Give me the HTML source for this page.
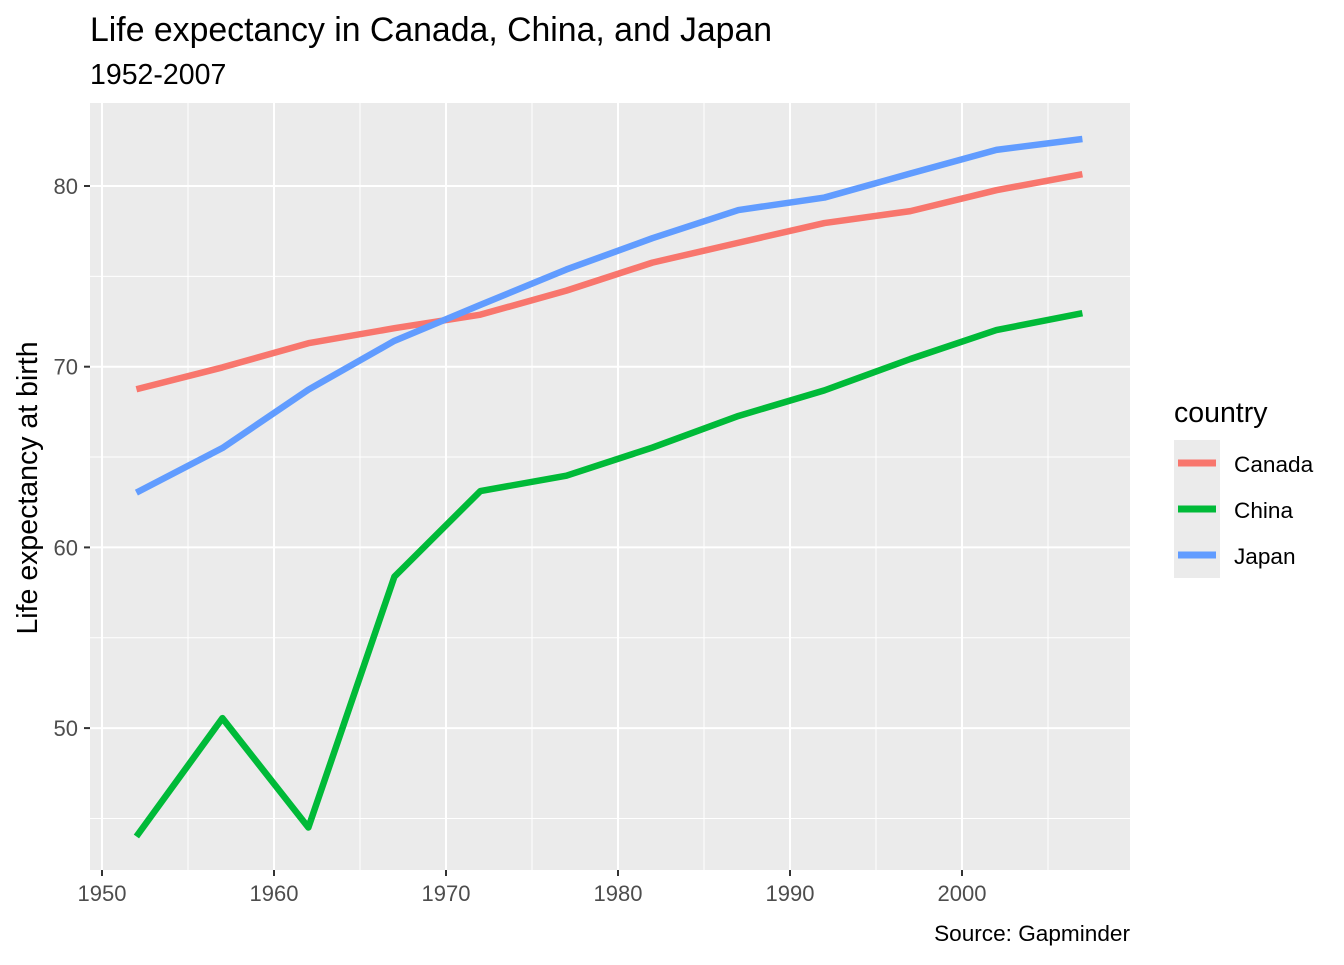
<!DOCTYPE html>
<html><head><meta charset="utf-8"><style>
body{margin:0;background:#fff;font-family:"Liberation Sans",Arial,sans-serif}
</style></head><body>
<svg id="chart" width="1344" height="960" xmlns="http://www.w3.org/2000/svg" font-family="Liberation Sans, Arial, sans-serif">
<text x="90" y="41" font-size="33.8" fill="#000">Life expectancy in Canada, China, and Japan</text>
<text x="90" y="84" font-size="28.5" fill="#000">1952-2007</text>
<rect x="90" y="103" width="1040" height="767" fill="#ebebeb"/>
<g id="grid"></g>
<g id="lines"></g>
<g id="axes"></g>
<text x="37" y="488" font-size="28.5" fill="#000" text-anchor="middle" transform="rotate(-90 37 488)">Life expectancy at birth</text>
<text x="1130" y="941" font-size="22.6" fill="#000" text-anchor="end">Source: Gapminder</text>
<g>
<text x="1174" y="422" font-size="28.5" fill="#000">country</text>
<rect x="1174" y="440" width="46" height="138" fill="#ebebeb"/>
<line x1="1178" x2="1216" y1="463" y2="463" stroke="#F8766D" stroke-width="7"/>
<line x1="1178" x2="1216" y1="509" y2="509" stroke="#00BA38" stroke-width="7"/>
<line x1="1178" x2="1216" y1="555" y2="555" stroke="#619CFF" stroke-width="7"/>
<text x="1234" y="472" font-size="22.6">Canada</text>
<text x="1234" y="518" font-size="22.6">China</text>
<text x="1234" y="564" font-size="22.6">Japan</text>
</g>
</svg>
<script>
const years=[1952,1957,1962,1967,1972,1977,1982,1987,1992,1997,2002,2007];
const canada=[68.75,69.96,71.3,72.13,72.88,74.21,75.76,76.86,77.95,78.61,79.77,80.653];
const china=[44,50.549,44.501,58.381,63.119,63.967,65.525,67.274,68.69,70.426,72.028,72.961];
const japan=[63.03,65.5,68.73,71.43,73.42,75.38,77.11,78.67,79.36,80.69,82,82.603];
const xTicks=[1950,1960,1970,1980,1990,2000];
const yTicks=[50,60,70,80];
const xMinor=[1955,1965,1975,1985,1995,2005];
const yMinor=[45,55,65,75];
const NS="http://www.w3.org/2000/svg";
const X=v=>102+(v-1950)*17.2;
const Y=v=>186+(80-v)*18.07;
function mk(tag,attrs,parent){const e=document.createElementNS(NS,tag);for(const k in attrs)e.setAttribute(k,attrs[k]);parent.appendChild(e);return e;}
const grid=document.getElementById('grid'),lines=document.getElementById('lines'),axes=document.getElementById('axes');
xMinor.forEach(v=>{const l=mk('line',{x1:X(v),x2:X(v),y1:103,y2:870,stroke:'#fff','stroke-width':1},grid);

});
yMinor.forEach(v=>{const l=mk('line',{x1:90,x2:1130,y1:Y(v),y2:Y(v),stroke:'#fff','stroke-width':1},grid);

});
xTicks.forEach(v=>{const l=mk('line',{x1:X(v),x2:X(v),y1:103,y2:870,stroke:'#fff','stroke-width':2},grid);


const t=mk('line',{x1:X(v),x2:X(v),y1:870,y2:876,stroke:'#333','stroke-width':2},axes);


const tx=mk('text',{x:X(v),y:901,'font-size':22,fill:'#4d4d4d','text-anchor':'middle'},axes);tx.textContent=v;

});
yTicks.forEach(v=>{const l=mk('line',{x1:90,x2:1130,y1:Y(v),y2:Y(v),stroke:'#fff','stroke-width':2},grid);


const t=mk('line',{x1:84,x2:90,y1:Y(v),y2:Y(v),stroke:'#333','stroke-width':2},axes);


const tx=mk('text',{x:78,y:Y(v)+8,'font-size':22,fill:'#4d4d4d','text-anchor':'end'},axes);tx.textContent=v;

});
[[canada,'#F8766D','canada-line'],[china,'#00BA38','china-line'],[japan,'#619CFF','japan-line']].forEach(([d,c,n])=>{
const p=mk('polyline',{points:years.map((y,i)=>X(y)+','+Y(d[i])).join(' '),fill:'none',stroke:c,'stroke-width':6.5,'stroke-linejoin':'round'},lines);

});
</script>
</body></html>
